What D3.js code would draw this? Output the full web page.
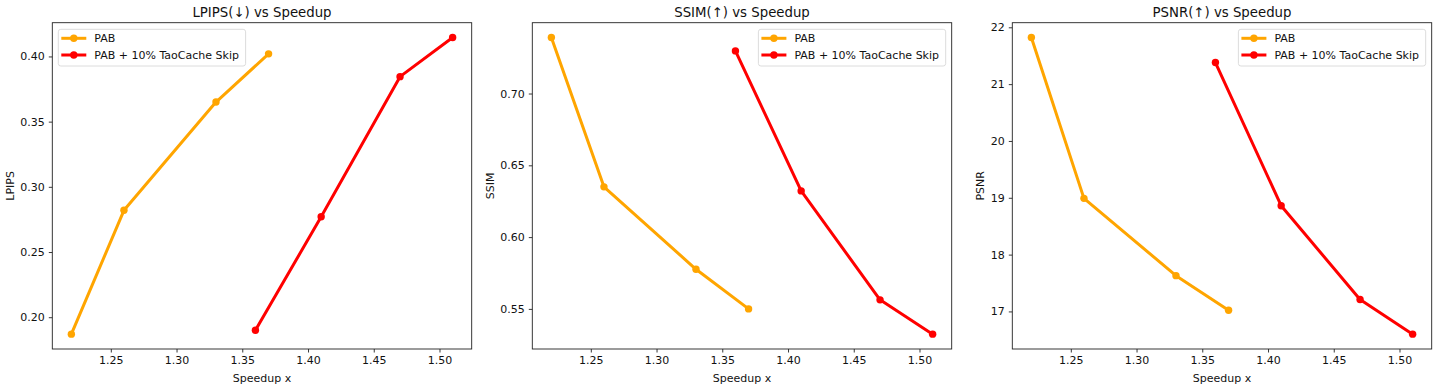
<!DOCTYPE html>
<html><head><meta charset="utf-8">
<script src="https://cdn.jsdelivr.net/npm/d3@7"></script>
<style>body{margin:0;background:#fff}svg text{font-family:"DejaVu Sans",sans-serif;fill:#111}</style>
</head><body><svg id="c" width="1435" height="389"></svg>
<script>
const speedupPAB = [1.22, 1.26, 1.33, 1.37];
const speedupTao = [1.36, 1.41, 1.47, 1.51];
const lpipsPAB = [0.187, 0.282, 0.365, 0.402];
const lpipsTao = [0.190, 0.277, 0.3845, 0.4145];
const ssimPAB = [0.739, 0.635, 0.5776, 0.550];
const ssimTao = [0.7297, 0.6322, 0.5563, 0.5324];
const psnrPAB = [21.82, 18.99, 17.63, 17.02];
const psnrTao = [21.38, 18.86, 17.21, 16.60];
const xTicks = [1.25, 1.30, 1.35, 1.40, 1.45, 1.50];
const lpipsTicks = [0.20, 0.25, 0.30, 0.35, 0.40];
const ssimTicks = [0.55, 0.60, 0.65, 0.70];
const psnrTicks = [17, 18, 19, 20, 21, 22];
const seriesNames = ["PAB", "PAB + 10% TaoCache Skip"];
const seriesColors = ["#FFA500", "#FF0000"];

(function(){
const panels = [
  {title:"LPIPS(\u2193) vs Speedup", ylabel:"LPIPS", a:lpipsPAB, b:lpipsTao, ticks:lpipsTicks, fmt:d3.format(".2f"), left:52.3, ylabX:10, legendLeft:true},
  {title:"SSIM(\u2191) vs Speedup", ylabel:"SSIM", a:ssimPAB, b:ssimTao, ticks:ssimTicks, fmt:d3.format(".2f"), left:532.3, ylabX:490, legendLeft:false},
  {title:"PSNR(\u2191) vs Speedup", ylabel:"PSNR", a:psnrPAB, b:psnrTao, ticks:psnrTicks, fmt:d3.format("d"), left:1012.3, ylabX:980, legendLeft:false}
];
const W = 419.4, plotTop = 22.7, plotBottom = 349;
const svg = d3.select("#c");

function pad(ext){const r=ext[1]-ext[0];return [ext[0]-0.05*r, ext[1]+0.05*r];}

panels.forEach(p=>{
  const allX = speedupPAB.concat(speedupTao);
  const allY = p.a.concat(p.b);
  const x = d3.scaleLinear().domain(pad(d3.extent(allX))).range([p.left, p.left+W]);
  const y = d3.scaleLinear().domain(pad(d3.extent(allY))).range([plotBottom, plotTop]);
  const g = svg.append("g");
  const xa = g.append("g").attr("transform",`translate(0,${plotBottom})`)
    .call(d3.axisBottom(x).tickValues(xTicks).tickFormat(d3.format(".2f")).tickSizeOuter(0).tickSize(3.5).tickPadding(4));
  const ya = g.append("g").attr("transform",`translate(${p.left},0)`)
    .call(d3.axisLeft(y).tickValues(p.ticks).tickFormat(p.fmt).tickSizeOuter(0).tickSize(3.5).tickPadding(4));
  [xa,ya].forEach(a=>{a.select(".domain").remove();a.selectAll("line").attr("stroke","#222").attr("stroke-width",0.9);
    a.selectAll("text").style("font-size","11px").attr("fill","#111");});
  g.append("rect").attr("x",p.left).attr("y",plotTop).attr("width",W).attr("height",plotBottom-plotTop)
    .attr("fill","none").attr("stroke","#222").attr("stroke-width",0.9);
  const line = d3.line().x(d=>x(d[0])).y(d=>y(d[1]));
  [[speedupPAB,p.a],[speedupTao,p.b]].forEach((s,i)=>{
    const pts = s[0].map((v,k)=>[v,s[1][k]]);
    g.append("path").datum(pts).attr("d",line).attr("fill","none").attr("stroke",seriesColors[i])
      .attr("stroke-width",3).attr("stroke-linejoin","round").attr("stroke-linecap","butt");
    g.selectAll(null).data(pts).enter().append("circle").attr("cx",d=>x(d[0])).attr("cy",d=>y(d[1]))
      .attr("r",3.7).attr("fill",seriesColors[i]);
  });
  g.append("text").attr("x",p.left+W/2).attr("y",17).attr("text-anchor","middle").style("font-size","13.3px").text(p.title);
  g.append("text").attr("x",p.left+W/2).attr("y",382).attr("text-anchor","middle").style("font-size","11px").text("Speedup x");
  g.append("text").attr("transform",`translate(${p.ylabX+4},${(plotTop+plotBottom)/2}) rotate(-90)`).attr("text-anchor","middle").style("font-size","11px").text(p.ylabel);
  const lx = p.legendLeft ? p.left+6 : p.left+W-193.3;
  const lg = g.append("g").attr("transform",`translate(${lx},29.3)`);
  lg.append("rect").attr("width",187.3).attr("height",36.7).attr("rx",2.5).attr("fill","#fff").attr("fill-opacity",0.8)
    .attr("stroke","#d8d8d8").attr("stroke-width",0.9);
  seriesNames.forEach((n,i)=>{
    const yy = 9 + i*16.7;
    lg.append("line").attr("x1",3).attr("x2",28).attr("y1",yy).attr("y2",yy).attr("stroke",seriesColors[i]).attr("stroke-width",3);
    lg.append("circle").attr("cx",15.5).attr("cy",yy).attr("r",3.7).attr("fill",seriesColors[i]);
    lg.append("text").attr("x",36).attr("y",yy+4).style("font-size","11px").text(n);
  });
});
})();
</script></body></html>
